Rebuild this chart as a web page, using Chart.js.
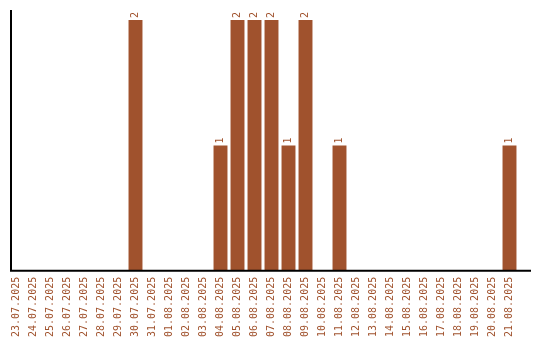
<!DOCTYPE html>
<html><head><meta charset="utf-8">
<script src="https://cdn.jsdelivr.net/npm/chart.js@4/dist/chart.umd.min.js"></script>
<style>html,body{margin:0;padding:0;background:#fff}#w{width:540px;height:340px}</style>
</head><body><div id="w"><canvas id="c"></canvas></div>
<script>
const categories = ["23.07.2025","24.07.2025","25.07.2025","26.07.2025","27.07.2025","28.07.2025","29.07.2025","30.07.2025","31.07.2025","01.08.2025","02.08.2025","03.08.2025","04.08.2025","05.08.2025","06.08.2025","07.08.2025","08.08.2025","09.08.2025","10.08.2025","11.08.2025","12.08.2025","13.08.2025","14.08.2025","15.08.2025","16.08.2025","17.08.2025","18.08.2025","19.08.2025","20.08.2025","21.08.2025"];
const counts = [0,0,0,0,0,0,0,2,0,0,0,0,1,2,2,2,1,2,0,1,0,0,0,0,0,0,0,0,0,1];
const color = '#A0522D';
const labelPlugin = {
  id:'vlabels',
  afterDatasetsDraw(chart){
    const ctx = chart.ctx;
    const a = chart.chartArea;
    ctx.save();
    ctx.strokeStyle = '#000';
    ctx.lineWidth = 2;
    ctx.beginPath();
    ctx.moveTo(a.left + 3, a.top);
    ctx.lineTo(a.left + 3, a.bottom);
    ctx.moveTo(a.left + 2, a.bottom);
    ctx.lineTo(a.right + 13, a.bottom);
    ctx.stroke();
    const meta = chart.getDatasetMeta(0);
    ctx.fillStyle = color;
    ctx.font = '10px "DejaVu Sans Mono"';
    ctx.textAlign = 'left';
    ctx.textBaseline = 'middle';
    meta.data.forEach((bar,i)=>{
      const v = counts[i];
      if(!v) return;
      ctx.save();
      ctx.translate(bar.x, bar.y - 2);
      ctx.rotate(-Math.PI/2);
      ctx.fillText(String(v), 0, 0);
      ctx.restore();
    });
    ctx.restore();
  }
};
new Chart(document.getElementById('c'), {
  type:'bar',
  data:{labels:categories, datasets:[{data:counts, backgroundColor:color, categoryPercentage:1, barPercentage:0.82}]},
  options:{
    responsive:true, maintainAspectRatio:false, animation:false,
    layout:{padding:{left:8,right:22,top:10,bottom:-3}},
    plugins:{legend:{display:false}, tooltip:{enabled:false}},
    scales:{
      x:{grid:{display:false, drawTicks:false}, border:{display:false},
         ticks:{color:color, font:{family:'"DejaVu Sans Mono"', size:10}, minRotation:90, maxRotation:90, padding:6, autoSkip:false}},
      y:{display:false, min:0, max:2.08}
    }
  },
  plugins:[labelPlugin]
});
</script></body></html>
